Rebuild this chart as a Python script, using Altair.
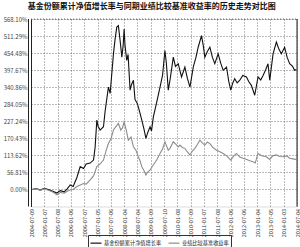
import altair as alt
import pandas as pd

title_text = "基金份额累计净值增长率与同期业绩比较基准收益率的历史走势对比图"
series_names = ["基金份额累计净值增长率", "业绩比较基准收益率"]

x_labels = ["2004-07-09", "2005-01-07", "2005-07-08", "2006-01-06", "2006-07-07",
            "2007-01-05", "2007-07-06", "2008-01-04", "2008-07-04", "2009-01-09",
            "2009-07-10", "2010-01-08", "2010-07-09", "2011-01-07", "2011-07-08",
            "2012-01-06", "2012-07-06", "2013-01-04", "2013-07-05", "2014-01-03",
            "2014-07-04"]
y_ticks = [0.00, 56.81, 113.62, 170.43, 227.24, 284.05, 340.86, 397.67, 454.48, 511.29, 568.10]

fund_t = [0.075, 0.4, 0.7, 1.0, 1.3, 1.6, 1.95, 2.2, 2.5, 2.72, 2.95, 3.17, 3.45, 3.7, 3.95,
          4.15, 4.45, 4.7, 4.82, 4.95, 5.05, 5.2, 5.45, 5.57, 5.82, 5.95, 6.2, 6.32, 6.45,
          6.57, 6.7, 6.83, 6.93, 7.0, 7.07, 7.2, 7.3, 7.45, 7.56, 7.7, 7.82, 8.0, 8.16,
          8.33, 8.5, 8.64, 8.78, 8.95, 9.06, 9.2, 9.45, 9.7, 9.89, 10.07, 10.18, 10.32,
          10.45, 10.7, 10.86, 11.07, 11.32, 11.57, 11.76, 11.95, 12.2, 12.4, 12.57, 12.82,
          12.95, 13.07, 13.26, 13.45, 13.64, 13.82, 14.07, 14.27, 14.45, 14.7, 14.87, 15.02,
          15.17, 15.32, 15.5, 15.7, 15.92, 16.2, 16.37, 16.57, 16.82, 17.07, 17.27, 17.45,
          17.65, 17.82, 17.95, 18.2, 18.45, 18.62, 18.82, 19.07, 19.26, 19.45, 19.67, 19.82,
          19.95]
fund_v = [0, 3, -2, 4, 0, -5, -12, -4, -8, 2, 15, 10, 40, 76, 70,
          85, 88, 98, 140, 231, 210, 198, 209, 260, 341, 320, 452, 500, 541,
          546, 497, 441, 480, 535, 480, 430, 450, 331, 350, 364, 300, 286, 260,
          231, 200, 170, 190, 209, 195, 242, 290, 341, 380, 463, 420, 331,
          364, 441, 410, 419, 375, 408, 370, 341, 408, 440, 474, 513,
          480, 441, 460, 474, 440, 419, 452, 420, 397, 408, 360, 331,
          355, 369, 355, 364, 380, 375, 360, 347, 314, 375, 365, 380,
          400, 419, 364, 452, 491, 470, 452, 474, 440, 419, 410, 397,
          400]

bench_t = [0.075, 0.4, 0.7, 1.0, 1.3, 1.6, 1.95, 2.2, 2.5, 2.72, 2.95, 3.17, 3.45, 3.7, 3.95,
           4.15, 4.45, 4.7, 4.95, 5.2, 5.45, 5.65, 5.82, 6.02, 6.2, 6.4, 6.57, 6.75, 6.88,
           7.0, 7.15, 7.32, 7.52, 7.7, 7.9, 8.07, 8.2, 8.33, 8.5, 8.64, 8.78, 8.95, 9.17,
           9.45, 9.7, 9.89, 10.07, 10.32, 10.45, 10.7, 10.9, 11.07, 11.2, 11.38, 11.57,
           11.76, 11.95, 12.14, 12.32, 12.51, 12.7, 12.88, 13.07, 13.26, 13.45, 13.67,
           13.95, 14.2, 14.45, 14.72, 15.02, 15.25, 15.45, 15.7, 15.95, 16.22, 16.45,
           16.7, 16.86, 17.07, 17.35, 17.7, 17.95, 18.17, 18.45, 18.7, 18.95, 19.22,
           19.45, 19.71, 19.95]
bench_v = [0, 2, -3, 2, -3, -8, -18, -10, -12, -6, -2, 0, 10, 15, 20,
           18, 32, 45, 76, 85, 98, 130, 153, 170, 198, 210, 220, 198, 205,
           225, 200, 164, 175, 142, 130, 109, 95, 76, 62, 48, 58, 65, 80,
           98, 120, 135, 159, 131, 137, 159, 150, 142, 148, 140, 137,
           125, 115, 128, 137, 150, 164, 155, 148, 158, 153, 140,
           131, 126, 120, 112, 98, 112, 120, 108, 104, 100, 96,
           92, 88, 120, 112, 109, 100, 112, 115, 110, 109, 112,
           104, 102, 100]

df = pd.concat([
    pd.DataFrame({"t": fund_t, "v": fund_v, "s": series_names[0], "o": range(len(fund_t))}),
    pd.DataFrame({"t": bench_t, "v": bench_v, "s": series_names[1], "o": range(len(bench_t))}),
])

W, H = 266, 187.5
label_arr = "[" + ",".join('"%s"' % s for s in x_labels) + "]"

FONT = "Noto Sans CJK SC"

lines = alt.Chart(df).mark_line(strokeWidth=1.1).encode(
    x=alt.X("t:Q", scale=alt.Scale(domain=[0, 20], nice=False, zero=False),
            axis=alt.Axis(values=list(range(21)), labelExpr=label_arr + "[round(datum.value)]",
                          labelAngle=270, labelFontSize=5.5, labelColor="#333", labelFont=FONT,
                          ticks=False, domain=False, labelPadding=2, title=None,
                          grid=True, gridDash=[1, 2], gridColor="#555", gridWidth=0.8)),
    y=alt.Y("v:Q", scale=alt.Scale(domain=[-56.81, 568.10], nice=False, zero=False),
            axis=alt.Axis(values=y_ticks, labelExpr="format(datum.value, '.2f') + '%'",
                          labelFontSize=6, labelColor="#444", labelFont=FONT,
                          ticks=False, domain=True, domainColor="#222", domainWidth=1,
                          labelPadding=4, title=None,
                          grid=True, gridDash=[1, 2], gridColor="#555", gridWidth=0.8)),
    color=alt.Color("s:N", scale=alt.Scale(domain=series_names, range=["#111111", "#8c8c8c"]),
                    legend=alt.Legend(title=None, orient="none", legendX=57, legendY=216,
                                      direction="horizontal", symbolType="stroke",
                                      symbolSize=120, symbolStrokeWidth=1.2,
                                      labelFontSize=5.2, labelFont=FONT, labelColor="#222",
                                      strokeColor="#333", padding=1.5, columnPadding=4,
                                      labelOffset=1.5, symbolOffset=0)),
    order="o:Q",
)

frame_right = alt.Chart().mark_rule(color="#222", strokeWidth=1).encode(
    x=alt.value(W), y=alt.value(0), y2=alt.value(H))
frame_left2 = alt.Chart().mark_rule(color="#222", strokeWidth=1).encode(
    x=alt.value(-2.5), y=alt.value(0), y2=alt.value(H))
frame_top = alt.Chart().mark_rule(color="#555", strokeWidth=0.8, strokeDash=[1, 2]).encode(
    x=alt.value(0), x2=alt.value(W), y=alt.value(0))

chart = alt.layer(lines, frame_right, frame_left2, frame_top).properties(
    width=W, height=H,
    autosize=alt.AutoSizeParams(type="none"),
    padding={"left": 31, "top": 19, "right": 3, "bottom": 40.5},
    title=alt.Title(title_text, fontSize=8, fontWeight="bold", font=FONT, color="#111",
                    anchor="middle", frame="bounds", offset=5),
).configure_view(stroke=None).configure(background="white")

chart.save("out.html", embed_options={"renderer": "svg", "actions": False})
